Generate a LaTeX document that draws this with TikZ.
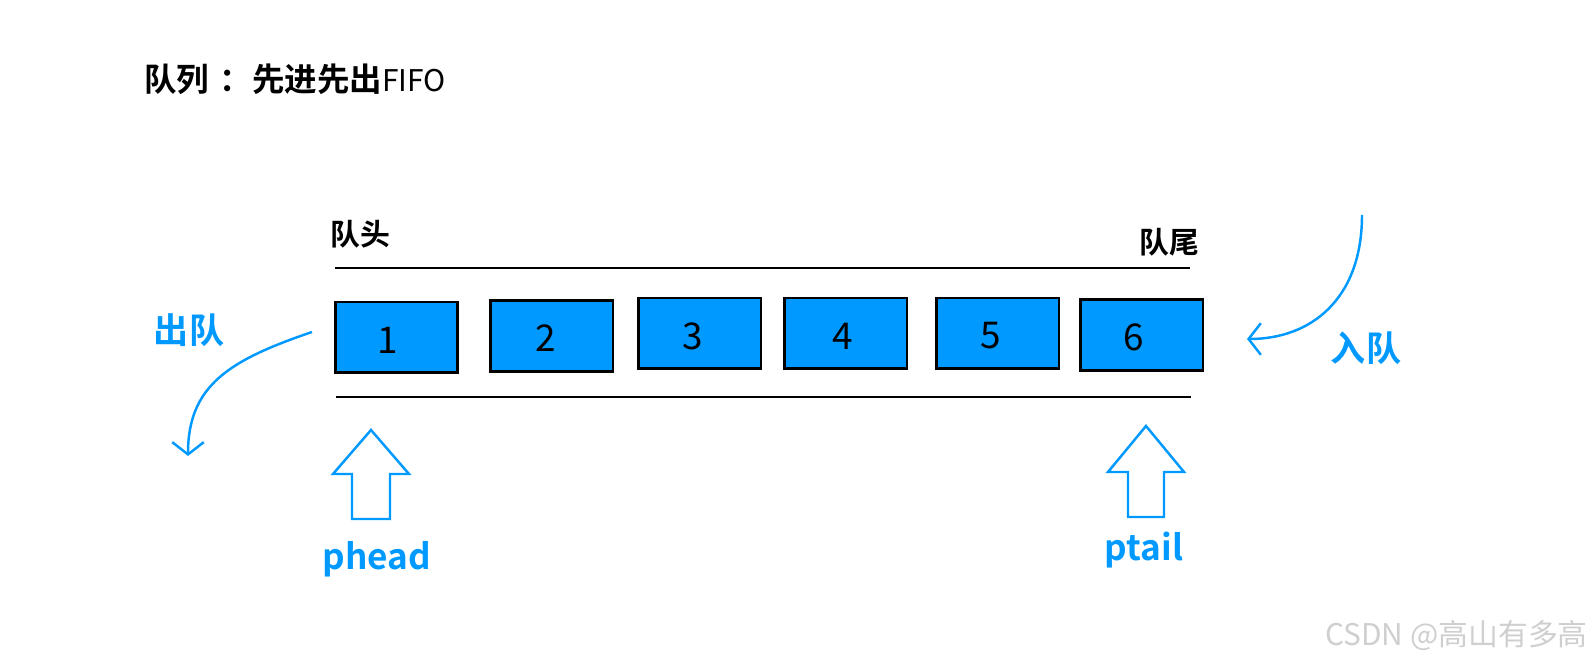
\documentclass[tikz,border=0pt]{standalone}
\usepackage{fontspec}
\setmainfont{Noto Sans CJK SC}[BoldFont={Noto Sans CJK SC Bold}]
\usetikzlibrary{arrows.meta}
\definecolor{qblue}{HTML}{0099FF}
\definecolor{wmark}{HTML}{CFCFCF}

\begin{document}
\begin{tikzpicture}[x=0.02cm, y=-0.02cm,
    cell/.style={draw=black, line width=1.7pt, fill=qblue, inner sep=0pt,
                 minimum width=2.46cm, minimum height=1.42cm},
    num/.style={font=\fontsize{21}{21}\selectfont},
    tag/.style={font=\bfseries\fontsize{17}{17}\selectfont},
    act/.style={font=\bfseries\fontsize{20}{20}\selectfont, text=qblue},
    rail/.style={line width=1.7pt, black},
    ptr/.style={draw=qblue, line width=1.4pt, line join=miter},
    flow/.style={qblue, line width=1.4pt,
                 -{Straight Barb[length=7pt, width=18pt]}},
  ]
    \useasboundingbox (0,0) rectangle (1593,661);
    \node[anchor=west, font=\fontsize{18.5}{18.5}\selectfont] (title) at (138,79)
       {\bfseries 队列\hspace{0.33em}：先进先出\mdseries\fontsize{17}{17}\selectfont FIFO};
    % the queue cells
    \foreach \i/\x/\y/\d in {1/396.5/337.5/-9, 2/551.5/336/-6, 3/699.5/333.5/-7,
                             4/845.5/333.5/-3, 5/997.5/333.5/-7, 6/1141.5/335/-8}
      \node[cell, label={[num, xshift=\d*0.02cm, yshift=-0.05cm]center:\i}] (c\i) at (\x,\y) {};
    \draw[rail] (335,268) -- (1190,268);
    \draw[rail] (336,397) -- (1191,397);
    \node[tag] (head) at (360,234) {队头};
    \node[tag] (tail) at (1169,242) {队尾};
    \node[act] (deq) at (189,330) {出队};
    \node[act] (enq) at (1366,348) {入队};
    \coordinate (deqA) at (312,332);
    \coordinate (deqB) at (188,456);
    \draw[flow] (deqA) .. controls (230,360) and (188,385) .. (deqB);
    \coordinate (enqA) at (1362,215);
    \coordinate (enqB) at (1247,339);
    \draw[flow] (enqA) .. controls (1362,300) and (1310,339) .. (enqB);
    % head and tail pointers
    \draw[ptr] (371,430) -- (409,474) -- (390,474) -- (390,519) -- (352,519)
       -- (352,474) -- (333,474) -- cycle;
    \node[act, anchor=base] (phead) at (377,570) {phead};
    \draw[ptr] (1146,426) -- (1184,472) -- (1164,472) -- (1164,517) -- (1128,517)
       -- (1128,472) -- (1108,472) -- cycle;
    \node[act, anchor=base] (ptail) at (1144,561) {ptail};
    \node[anchor=east, font=\fontsize{17}{17}\selectfont, text=wmark] (wm) at (1594,635)
       {CSDN @高山有多高};
\end{tikzpicture}
\end{document}
